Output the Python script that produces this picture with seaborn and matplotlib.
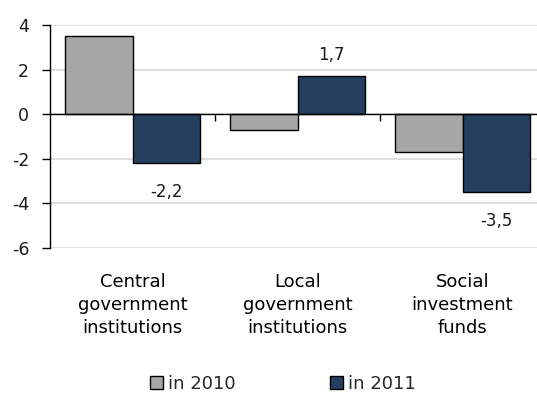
import pandas as pd
import numpy as np
import seaborn as sns
import matplotlib.pyplot as plt
from matplotlib.patches import Patch

# data
categories = ['Central\ngovernment\ninstitutions', 'Local\ngovernment\ninstitutions', 'Social\ninvestment\nfunds']
years = ['in 2010', 'in 2011']
values_2010 = [3.5, -0.7, -1.7]
values_2011 = [-2.2, 1.7, -3.5]
yticks = [-6, -4, -2, 0, 2, 4]

colors = {'in 2010': '#a6a6a6', 'in 2011': '#243f60'}

df = pd.DataFrame({
    'category': categories * 2,
    'year': ['in 2010'] * 3 + ['in 2011'] * 3,
    'value': values_2010 + values_2011,
})

sns.set_style('white')
plt.rcParams['font.family'] = ['DejaVu Sans']
plt.rcParams['axes.unicode_minus'] = False

fig = plt.figure(figsize=(5.37, 4.0), dpi=100)
ax = fig.add_axes([50 / 537, 0.38, 495 / 537, 0.5575])

sns.barplot(data=df, x='category', y='value', hue='year', palette=colors,
            width=0.82, saturation=1, edgecolor='black', linewidth=1, ax=ax,
            legend=False, zorder=3)

ax.set_ylim(-6, 4)
ax.set_xlim(-0.5, 2.5)
ax.set_yticks(yticks)
ax.set_yticklabels([str(t) for t in yticks], fontsize=12.5, color='#1a1a1a')
ax.yaxis.grid(True, color='#d9d9d9', linewidth=1.2, zorder=0)
ax.axhline(0, color='black', linewidth=1, zorder=4)
ax.vlines([0.5, 1.5], -0.3, 0, color='black', linewidth=1, zorder=4)

for s in ['top', 'right', 'bottom']:
    ax.spines[s].set_visible(False)
ax.spines['left'].set_color('black')
ax.spines['left'].set_linewidth(1)
ax.tick_params(axis='y', which='both', left=True, length=6, width=1, color='black', pad=9)
ax.tick_params(axis='x', length=0, pad=18)
ax.set_xticks(range(3))
ax.set_xticklabels(categories, fontsize=13, linespacing=1.35, color='black')
ax.set_xlabel('')
ax.set_ylabel('')

# value labels for 2011 only
for i, v in enumerate(values_2011):
    txt = f'{v:.1f}'.replace('.', ',')
    off = 15 if v > 0 else -21
    ax.annotate(txt, (i + 0.205, v), xytext=(0, off), textcoords='offset points',
                ha='center', va='center', fontsize=12, color='#1a1a1a')

handles = [Patch(facecolor=colors[y], edgecolor='black', linewidth=1) for y in years]
fig.legend(handles, years, loc='center', bbox_to_anchor=(0.527, 0.04), ncol=2,
           frameon=False, fontsize=13, handlelength=0.7, handleheight=0.7,
           handletextpad=0.3, columnspacing=5.2)

fig.savefig('out.png', dpi=100)
